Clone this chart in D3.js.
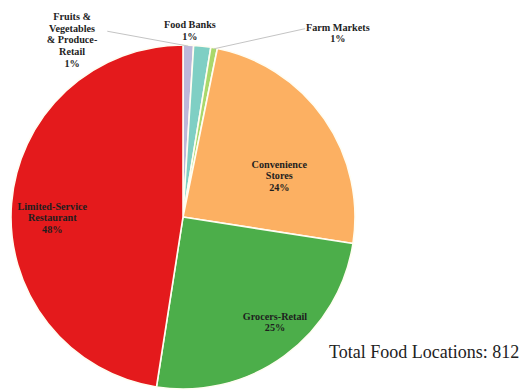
<!DOCTYPE html>
<html>
<head>
<meta charset="utf-8">
<script src="https://cdn.jsdelivr.net/npm/d3@7"></script>
<style>
  html, body { margin: 0; padding: 0; background: #fff; }
  svg { display: block; }
</style>
</head>
<body>
<svg id="chart" width="531" height="392"></svg>
<script>
// Food locations by type (count of 812), clockwise from 12 o'clock
const categories = [
  "Fruits & Vegetables & Produce-Retail",
  "Food Banks",
  "Farm Markets",
  "Convenience Stores",
  "Grocers-Retail",
  "Limited-Service Restaurant"
];
const counts = [8, 13, 5, 197, 203, 386];
const percentLabels = ["1%", "1%", "1%", "24%", "25%", "48%"];
const labelLines = [
  ["Fruits &", "Vegetables", "& Produce-", "Retail"],
  ["Food Banks"],
  ["Farm Markets"],
  ["Convenience", "Stores"],
  ["Grocers-Retail"],
  ["Limited-Service", "Restaurant"]
];
const colors = ["#bdb8da", "#7fcfc4", "#a9d86b", "#fcb062", "#4cae4a", "#e41a1c"];
const totalText = "Total Food Locations: 812";

// label block centres, in units of the pie radius relative to its centre
const labelPos = [
  [-0.645, -1.03], [0.04, -1.087], [0.90, -1.07],
  [0.56, -0.24], [0.535, 0.61], [-0.76, 0.005]
];
// leader line start (in radius units) for labels placed outside the pie
const leaderStart = [[-0.44, -1.08], null, [0.71, -1.095], null, null, null];

const svg = d3.select("#chart");
const cx = 183, cy = 217, R = 172;
const g = svg.append("g").attr("transform", `translate(${cx},${cy})`);

const pie = d3.pie().sort(null).value(d => d.value).startAngle(0).endAngle(2 * Math.PI);
const data = categories.map((c, i) => ({ name: c, value: counts[i], i }));
const arcs = pie(data);
const arc = d3.arc().innerRadius(0).outerRadius(R);

g.selectAll("path.slice")
  .data(arcs)
  .join("path")
  .attr("class", "slice")
  .attr("d", arc)
  .attr("fill", d => colors[d.data.i])
  .attr("stroke", "#fffdf2")
  .attr("stroke-width", 1.6)
  .attr("stroke-linejoin", "round");

// leader lines for the small outside slices
const edgeArc = d3.arc().innerRadius(R).outerRadius(R);
arcs.forEach(d => {
  const s = leaderStart[d.data.i];
  if (!s) return;
  const mid = (d.startAngle + d.endAngle) / 2;
  const ex = Math.sin(mid) * (R - 1), ey = -Math.cos(mid) * (R - 1);
  g.append("path")
    .attr("d", d3.line()([[s[0] * R, s[1] * R], [ex, ey]]))
    .attr("fill", "none")
    .attr("stroke", "#c4c4c4")
    .attr("stroke-width", 1);
});

// data labels
const lh = 11.7;
arcs.forEach(d => {
  const i = d.data.i;
  const lines = labelLines[i].concat([percentLabels[i]]);
  const x = labelPos[i][0] * R, y = labelPos[i][1] * R;
  const first = y - (lines.length - 1) * lh / 2 + 3.6;
  const t = g.append("text")
    .attr("text-anchor", "middle")
    .attr("font-family", "'Liberation Serif', 'Times New Roman', serif")
    .attr("font-weight", "bold")
    .attr("font-size", 10.2)
    .attr("fill", "#1e1e1e");
  lines.forEach((ln, k) => {
    t.append("tspan").attr("x", x).attr("y", first + k * lh).text(ln);
  });
});

svg.append("text")
  .attr("x", 329)
  .attr("y", 358)
  .attr("font-family", "'Liberation Serif', 'Times New Roman', serif")
  .attr("font-size", 18)
  .attr("fill", "#222")
  .text(totalText);
</script>
</body>
</html>
